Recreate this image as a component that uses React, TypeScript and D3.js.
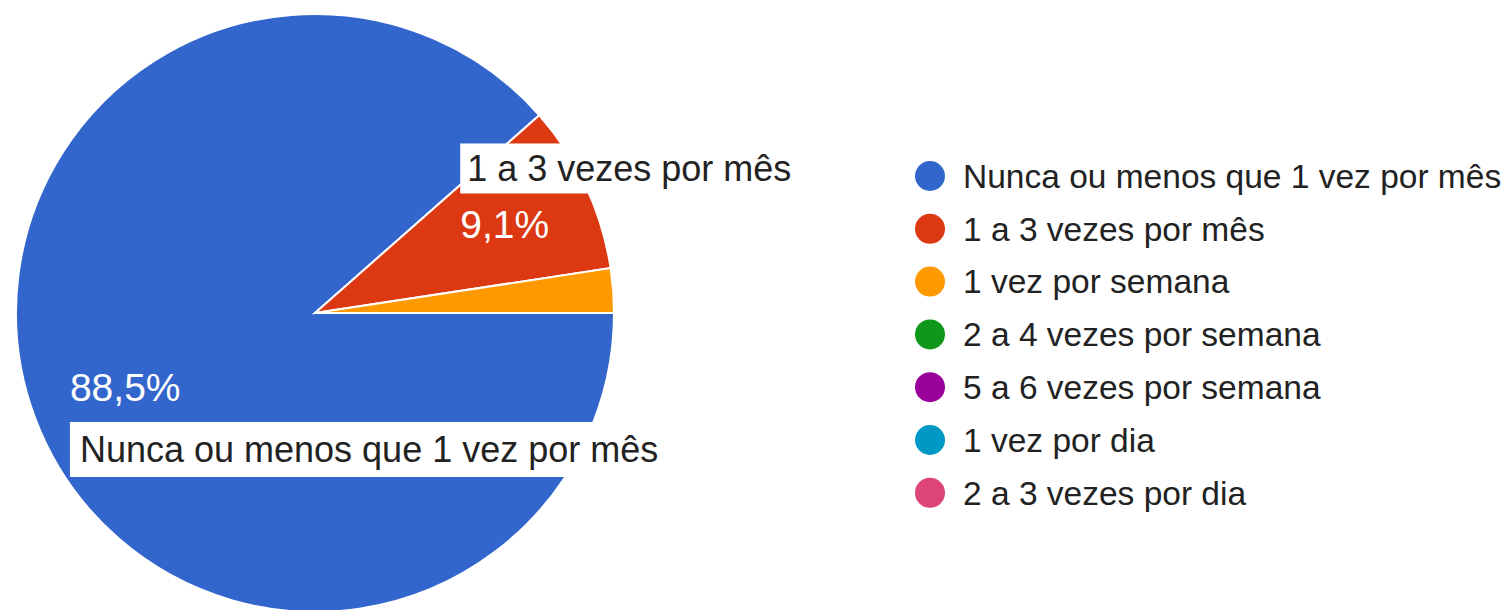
import React from "react";
import * as d3 from "d3";

const categories = [
  "Nunca ou menos que 1 vez por mês",
  "1 a 3 vezes por mês",
  "1 vez por semana",
  "2 a 4 vezes por semana",
  "5 a 6 vezes por semana",
  "1 vez por dia",
  "2 a 3 vezes por dia",
];
const values = [88.5, 9.1, 2.4, 0, 0, 0, 0];
const pctLabels = ["88,5%", "9,1%", "", "", "", "", ""];
const colors = ["#3366cc", "#dc3912", "#ff9900", "#109618", "#990099", "#0099c6", "#dd4477"];
const labeledSlices = [0, 1];

const W = 1511;
const H = 610;
const FONT = "'Liberation Sans', Arial, sans-serif";

let measureCtx: CanvasRenderingContext2D | null = null;
function measure(text: string, size: number) {
  if (!measureCtx) {
    const c = document.createElement("canvas");
    measureCtx = c.getContext("2d");
  }
  if (!measureCtx) return text.length * size * 0.55;
  measureCtx.font = `${size}px ${FONT}`;
  return measureCtx.measureText(text).width;
}

export default function App() {
  const cx = 315;
  const cy = 313;
  const r = 299;
  const pie = d3
    .pie<number>()
    .sort(null)
    .value((d) => d)
    .startAngle(Math.PI / 2)
    .endAngle(Math.PI / 2 + 2 * Math.PI);
  const arcs = pie(values);
  const arc = d3.arc<d3.PieArcDatum<number>>().innerRadius(0).outerRadius(r);
  const labelArc = d3.arc<d3.PieArcDatum<number>>().innerRadius(r * 0.7).outerRadius(r * 0.7);

  const pctSize = 39;
  const labSize = 36;
  const legSize = 33.5;

  const legendY = d3.scaleLinear().domain([0, 1]).range([176, 176 + 52.8]);

  return (
    <svg
      width={W}
      height={H}
      style={{ position: "absolute", left: 0, top: 0, background: "#fff" }}
      fontFamily={FONT}
    >
      <g transform={`translate(${cx},${cy})`}>
        {arcs.map((a, i) => (
          <path key={i} d={arc(a) || ""} fill={colors[i]} stroke="#fff" strokeWidth={2} />
        ))}
        {labeledSlices.map((i) => {
          const a = arcs[i];
          const [lx0, ly] = labelArc.centroid(a);
          const above = ly < 0;
          const lx = above ? lx0 : lx0 + 6;
          const pw = measure(pctLabels[i], pctSize);
          const left = lx - pw / 2;
          const tw = measure(categories[i], labSize);
          const boxH = above ? 50 : 55;
          const boxTop = above ? ly - 31 - boxH : ly + 35;
          const pad = above ? 7 : 10;
          return (
            <g key={i}>
              <text
                x={lx}
                y={ly}
                dy="0.35em"
                textAnchor="middle"
                fontSize={pctSize}
                fill="#fff"
              >
                {pctLabels[i]}
              </text>
              <rect x={left} y={boxTop} width={tw + pad * 2} height={boxH} fill="#fff" />
              <text
                x={left + pad}
                y={boxTop + boxH / 2}
                dy="0.35em"
                fontSize={labSize}
                fill="#222"
              >
                {categories[i]}
              </text>
            </g>
          );
        })}
      </g>
      <g>
        {categories.map((c, i) => (
          <g key={c} transform={`translate(0,${legendY(i)})`}>
            <circle cx={930} cy={0} r={15} fill={colors[i]} />
            <text x={963} y={0} dy="0.35em" fontSize={legSize} fill="#222">
              {c}
            </text>
          </g>
        ))}
      </g>
    </svg>
  );
}
